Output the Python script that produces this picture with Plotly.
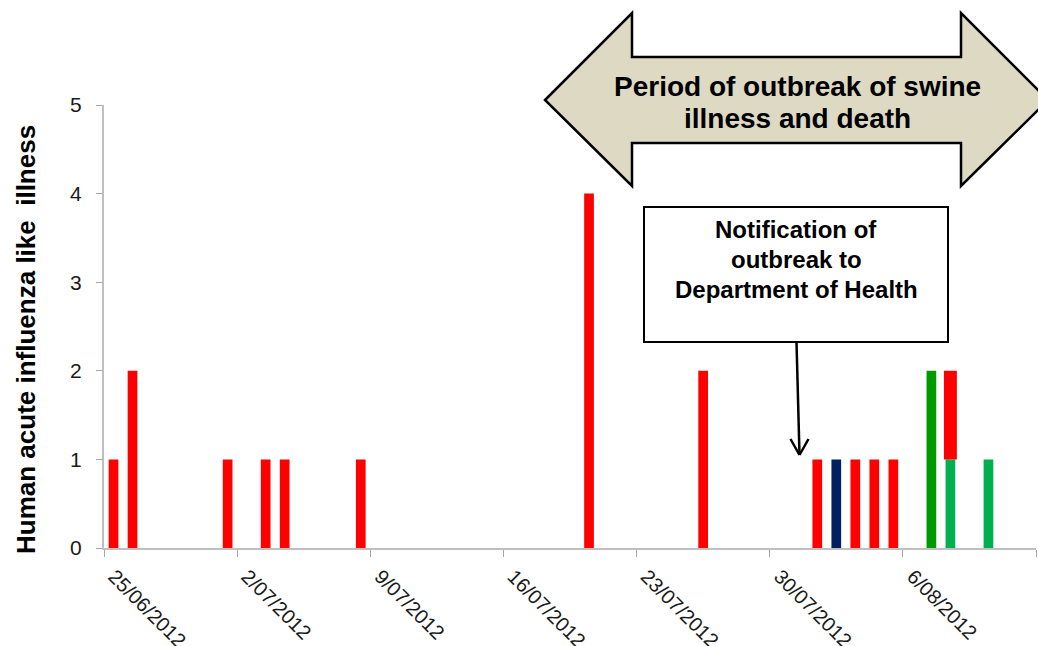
import plotly.graph_objects as go

# ---- data ----
red_dates = ['2012-06-25', '2012-06-26', '2012-07-01', '2012-07-03', '2012-07-04',
             '2012-07-08', '2012-07-20', '2012-07-26', '2012-08-01', '2012-08-03',
             '2012-08-04', '2012-08-05']
red_counts = [1, 2, 1, 1, 1, 1, 4, 2, 1, 1, 1, 1]
navy_dates = ['2012-08-02']
navy_counts = [1]
dkgreen_dates = ['2012-08-07']
dkgreen_counts = [2]
ltgreen_dates = ['2012-08-08', '2012-08-10']
ltgreen_counts = [1, 1]
red_top_dates = ['2012-08-08']
red_top_counts = [1]
red_top_base = [1]

tick_dates = ['2012-06-25', '2012-07-02', '2012-07-09', '2012-07-16', '2012-07-23',
              '2012-07-30', '2012-08-06', '2012-08-13']
tick_labels = ['25/06/2012', '2/07/2012', '9/07/2012', '16/07/2012', '23/07/2012',
               '30/07/2012', '6/08/2012', '']

DAY = 86400000
BW = 0.51 * DAY
FONT = 'Arial, Liberation Sans, sans-serif'

W, H = 1038, 646
L, R, T, B = 104, 2, 105, 98
PW, PH = W - L - R, H - T - B


def px(x):
    return (x - L) / PW


def py(y):
    return (H - B - y) / PH


fig = go.Figure()


def add_bars(dates, vals, color, width=BW, base=None):
    fig.add_trace(go.Bar(
        x=dates, y=vals, base=base, width=width,
        xperiod=DAY, xperiodalignment='middle',
        marker=dict(color=color, line=dict(width=0)),
        showlegend=False, hoverinfo='x+y'))


add_bars(red_dates, red_counts, '#FF0000')
add_bars(navy_dates, navy_counts, '#002060')
add_bars(dkgreen_dates, dkgreen_counts, '#009900')
add_bars(ltgreen_dates, ltgreen_counts, '#00B050')
add_bars(red_top_dates, red_top_counts, '#FF0000', width=0.68 * DAY, base=red_top_base)

axis_col = '#BFBFBF'
fig.update_layout(
    width=W, height=H,
    margin=dict(l=L, r=R, t=T, b=B, autoexpand=False),
    plot_bgcolor='white', paper_bgcolor='white',
    barmode='overlay',
    font=dict(family=FONT, color='#1a1a1a'),
    xaxis=dict(
        type='date', range=['2012-06-25', '2012-08-13'],
        tickmode='array', tickvals=tick_dates, ticktext=tick_labels,
        tickangle=45, tickfont=dict(size=20, family=FONT, color='#1a1a1a'),
        ticklabelshift=10,
        ticks='outside', ticklen=7, tickcolor='#A6A6A6', tickwidth=1,
        showline=True, linecolor=axis_col, linewidth=2,
        showgrid=False, zeroline=False, fixedrange=True, automargin=False),
    yaxis=dict(
        range=[0, 5], tickvals=[0, 1, 2, 3, 4, 5],
        tickfont=dict(size=21, family=FONT, color='#1a1a1a'),
        ticks='outside', ticklen=6, tickcolor='#A6A6A6', tickwidth=1,
        ticklabelstandoff=10,
        showline=True, linecolor=axis_col, linewidth=2,
        showgrid=False, zeroline=False, automargin=False, fixedrange=True),
)

# y-axis title (as annotation to match its offset position)
fig.add_annotation(text='<b>Human acute influenza like  illness</b>', textangle=-90,
                   x=px(26), y=py(340), xref='paper', yref='paper',
                   xanchor='center', yanchor='middle', showarrow=False,
                   font=dict(size=26, family=FONT, color='black'))

# double-headed arrow shape
arrow_pts = [(545, 100), (632, 13), (632, 57), (961, 57), (961, 13), (1048, 100),
             (961, 186), (961, 143), (632, 143), (632, 186)]
path = 'M ' + ' L '.join(f'{px(x):.5f},{py(y):.5f}' for x, y in arrow_pts) + ' Z'
fig.add_shape(type='path', path=path, xref='paper', yref='paper',
              fillcolor='#DDD9C3', line=dict(color='black', width=2.5), layer='above')

for txt, y in [('Period of outbreak of swine', 87), ('illness and death', 119)]:
    fig.add_annotation(text=f'<b>{txt}</b>', x=px(797), y=py(y), xref='paper', yref='paper',
                       xanchor='center', yanchor='middle', showarrow=False,
                       font=dict(size=28, family=FONT, color='black'))

# notification box
fig.add_shape(type='rect', x0=px(644), x1=px(948), y0=py(207), y1=py(342),
              xref='paper', yref='paper', fillcolor='white',
              line=dict(color='black', width=2), layer='above')
for txt, y in [('Notification of', 229), ('outbreak to', 259), ('Department of Health', 289)]:
    fig.add_annotation(text=f'<b>{txt}</b>', x=px(796), y=py(y), xref='paper', yref='paper',
                       xanchor='center', yanchor='middle', showarrow=False,
                       font=dict(size=24, family=FONT, color='black'))

# pointer arrow
for (x0, y0, x1, y1) in [(796.5, 342, 799.5, 455), (790.5, 439, 799.5, 455), (808.5, 439, 799.5, 455)]:
    fig.add_shape(type='line', x0=px(x0), y0=py(y0), x1=px(x1), y1=py(y1),
                  xref='paper', yref='paper', line=dict(color='black', width=2.5), layer='above')

fig.write_html('out.html', config={'displayModeBar': False},
               post_script="document.body.style.margin='0px';document.body.style.overflow='hidden';")
